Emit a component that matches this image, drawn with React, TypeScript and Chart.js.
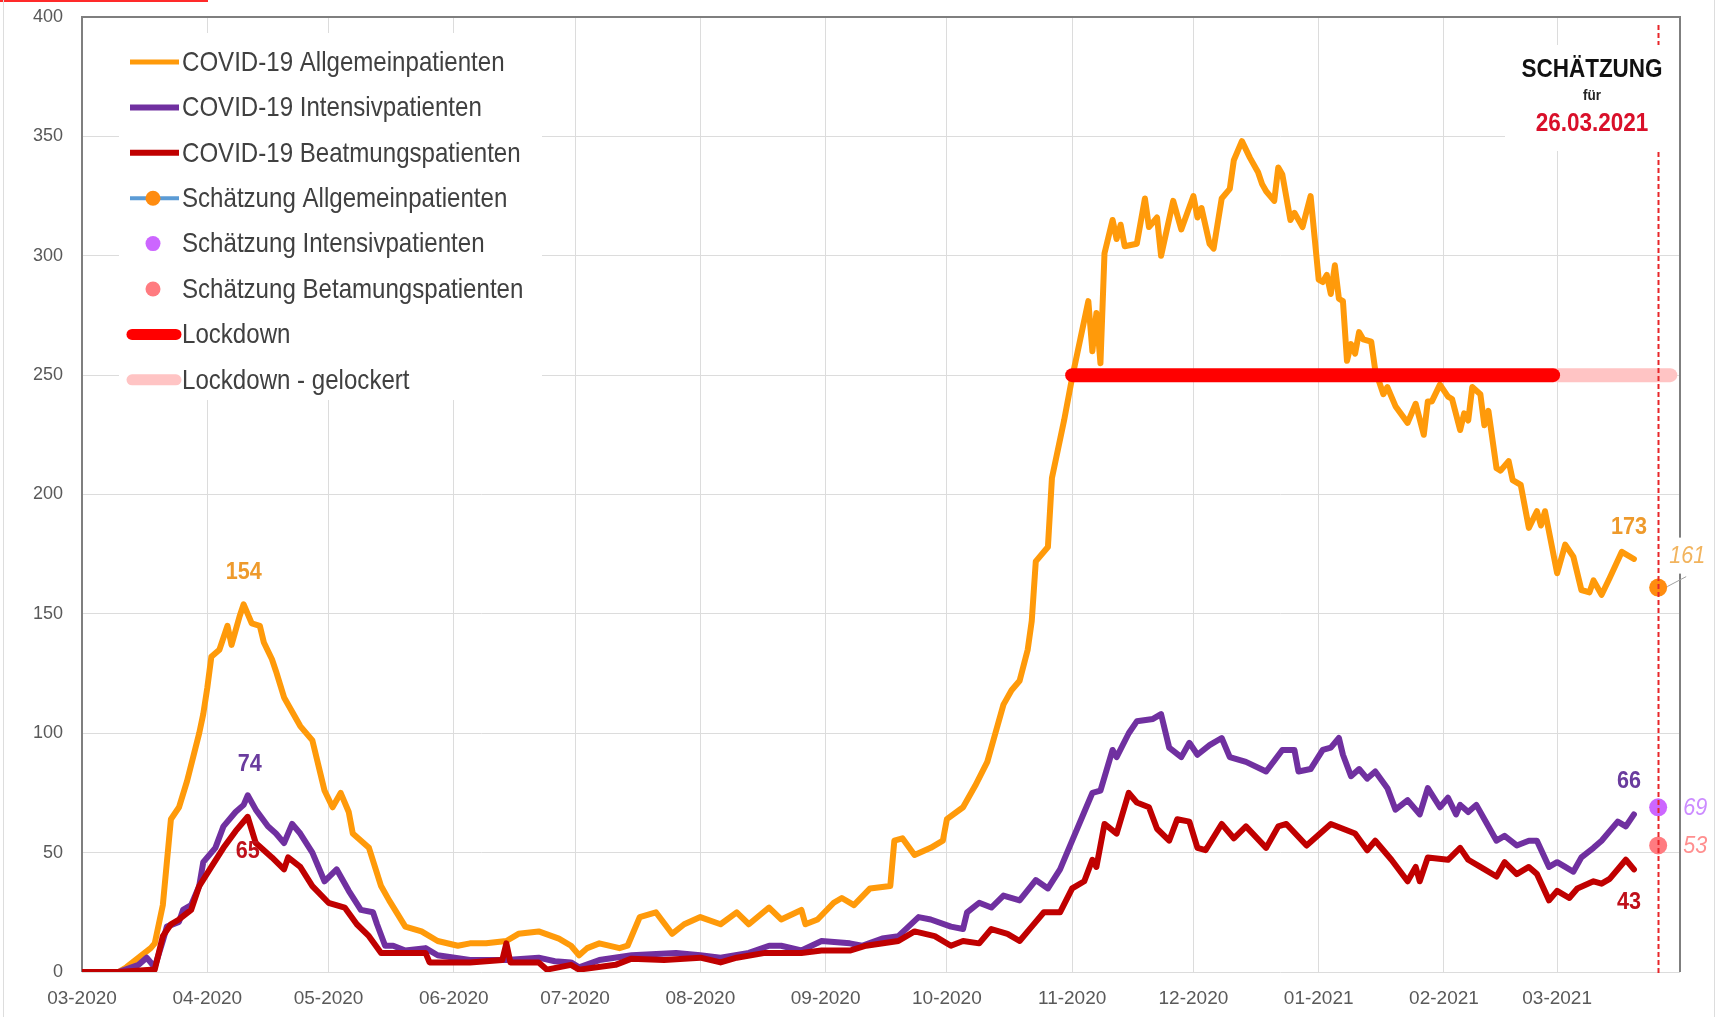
import React, { useEffect, useRef } from 'react';
import { Chart, registerables } from 'chart.js';

Chart.register(...registerables);

const FONT = "'Liberation Sans', Arial, sans-serif";

// x values: days counted from 2020-03-01
const monthTickDays = [0, 31, 61, 92, 122, 153, 184, 214, 245, 275, 306, 337, 365];
const monthTickLabels = ['03-2020', '04-2020', '05-2020', '06-2020', '07-2020', '08-2020', '09-2020', '10-2020', '11-2020', '12-2020', '01-2021', '02-2021', '03-2021'];

// COVID-19 Allgemeinpatienten
const allgDays = [0, 9, 11, 14, 17, 18, 20, 22, 24, 26, 29, 30, 31, 32, 34, 36, 37, 39, 40, 42, 44, 45, 47, 48, 50, 54, 57, 60, 62, 64, 66, 67, 71, 74, 76, 80, 84, 88, 93, 96, 100, 105, 108, 113, 118, 121, 123, 125, 128, 133, 135, 138, 142, 146, 149, 153, 158, 162, 165, 170, 173, 178, 179, 182, 186, 188, 191, 195, 200, 201, 203, 206, 210, 213, 214, 218, 221, 224, 226, 228, 230, 232, 234, 235, 236, 239, 240, 243, 245, 247, 249, 250, 251, 252, 253, 255, 256, 257, 258, 261, 263, 264, 266, 267, 270, 272, 275, 276, 277, 279, 280, 282, 284, 285, 287, 289, 291, 292, 293, 295, 296, 297, 299, 300, 302, 304, 306, 307, 308, 309, 310, 311, 312, 313, 314, 315, 316, 317, 319, 320, 322, 323, 325, 328, 330, 332, 333, 334, 336, 338, 339, 341, 342, 343, 344, 346, 347, 348, 350, 351, 353, 354, 356, 358, 360, 361, 362, 365, 367, 369, 371, 373, 374, 376, 378, 381, 384];
const allgValues = [0, 0, 2, 6, 10, 12, 28, 64, 69, 80, 100, 108, 119, 132, 135, 145, 137, 149, 154, 146, 145, 138, 131, 126, 115, 103, 97, 76, 69, 75, 67, 58, 52, 36, 30, 19, 17, 13, 11, 12, 12, 13, 16, 17, 14, 11, 7, 10, 12, 10, 11, 23, 25, 16, 20, 23, 20, 25, 20, 27, 22, 26, 20, 22, 29, 31, 28, 35, 36, 55, 56, 49, 52, 55, 64, 69, 78, 88, 100, 112, 118, 122, 135, 147, 172, 178, 207, 231, 249, 265, 281, 260, 276, 255, 301, 315, 307, 313, 304, 305, 324, 312, 316, 300, 323, 311, 325, 316, 320, 305, 303, 324, 328, 340, 348, 341, 335, 330, 327, 323, 337, 334, 315, 318, 312, 325, 290, 289, 292, 284, 296, 282, 281, 256, 263, 259, 268, 265, 264, 252, 242, 245, 237, 230, 238, 225, 239, 239, 246, 241, 240, 227, 234, 231, 245, 242, 229, 235, 211, 210, 214, 206, 204, 186, 193, 187, 193, 167, 179, 174, 160, 159, 164, 158, 165, 176, 173];

// COVID-19 Intensivpatienten
const intDays = [0, 9, 14, 16, 18, 20, 21, 24, 25, 27, 29, 30, 33, 35, 38, 40, 41, 43, 46, 48, 50, 52, 54, 57, 60, 63, 66, 69, 72, 73, 75, 77, 80, 85, 88, 96, 105, 113, 117, 121, 123, 128, 136, 147, 153, 158, 165, 170, 173, 178, 183, 190, 193, 198, 202, 207, 210, 215, 218, 219, 222, 225, 228, 232, 236, 239, 242, 245, 248, 250, 252, 255, 256, 259, 261, 265, 267, 269, 272, 274, 276, 279, 282, 284, 288, 293, 297, 300, 301, 304, 307, 309, 311, 312, 314, 316, 318, 320, 323, 325, 328, 331, 333, 336, 338, 340, 341, 343, 345, 347, 350, 352, 355, 358, 360, 363, 365, 367, 369, 371, 374, 376, 378, 380, 382, 384];
const intValues = [0, 0, 3, 6, 2, 13, 19, 21, 26, 28, 36, 46, 52, 61, 67, 70, 74, 68, 61, 58, 54, 62, 58, 50, 38, 43, 34, 26, 25, 20, 11, 11, 9, 10, 7, 5, 5, 6, 4.5, 4, 2, 5, 7, 8, 7, 6, 8, 11, 11, 9, 13, 12, 11, 14, 15, 23, 22, 19, 18, 25, 29, 27, 32, 30, 38.5, 35, 43, 55, 67, 75, 76, 93, 90, 100, 105, 106, 108, 94, 90, 96, 91, 95, 98, 90, 88, 84, 93, 93, 84, 85, 93, 94, 98, 91, 82, 85, 81, 84, 77, 68, 72, 66, 77, 69, 73, 66, 70, 67, 70, 64, 55, 57, 53, 55, 55, 44, 46, 44, 42, 48, 52, 55, 59, 63, 61, 66];

// COVID-19 Beatmungspatienten
const beatDays = [0, 9, 18, 20, 22, 24, 27, 29, 32, 35, 38, 41, 43, 47, 50, 51, 54, 57, 61, 65, 68, 71, 74, 80, 85, 86, 96, 104, 105, 106, 113, 115, 121, 123, 132, 136, 144, 153, 158, 162, 169, 178, 183, 190, 194, 202, 206, 211, 215, 218, 222, 225, 229, 232, 235, 238, 242, 245, 248, 250, 251, 253, 256, 259, 261, 264, 266, 269, 271, 274, 276, 278, 282, 285, 288, 293, 296, 298, 303, 309, 312, 315, 318, 320, 324, 328, 330, 331, 333, 338, 341, 343, 346, 350, 352, 355, 358, 360, 363, 365, 368, 370, 374, 376, 378, 382, 384];
const beatValues = [0, 0, 1, 15, 20, 22, 26, 36, 44, 52, 59, 65, 54, 48, 43, 48, 44, 36, 29, 27, 20, 15, 8, 8, 8, 4, 4, 5, 12, 4, 4, 1, 3, 1, 3, 5.6, 5, 6, 4, 6, 8, 8, 9, 9, 11, 13, 17, 15, 11, 13, 12, 18, 16, 13, 19, 25, 25, 35, 38, 47, 44, 62, 58, 75, 71, 69, 60, 55, 64, 63, 52, 51, 62, 56, 61, 52, 61, 62, 53, 62, 60, 58, 51, 55, 47, 38, 44, 38, 48, 47, 52, 47, 44, 40, 46, 41, 44, 41, 30, 34, 31, 35, 38, 37, 39, 47, 43];

// Schätzung für 26.03.2021
const estimateDay = 390;
const estimateAllg = 161;
const estimateInt = 69;
const estimateBeat = 53;

// Lockdown bars (at level 250)
const lockdownDays = [245, 364];
const lockdownLooseDays = [364, 393];
const lockdownLevel = 250;

const estimateTitle = 'SCHÄTZUNG';
const estimateFor = 'für';
const estimateDate = '26.03.2021';

const C_ORANGE = '#FF9A0A';
const C_PURPLE = '#7030A0';
const C_DARKRED = '#C00000';
const C_EST_ORANGE = '#FF8C10';
const C_EST_VIOLET = '#CC66FF';
const C_EST_SALMON = '#FF7B80';
const C_LOCK = '#FF0000';
const C_LOCK_LOOSE = '#FFC4C4';
const C_GRID = '#DCDCDC';
const C_FRAME = '#7F7F7F';

const pts = (d: number[], v: number[]) => d.map((x, i) => ({ x, y: v[i] }));

const legendStyles: any[] = [
  { kind: 'line', color: C_ORANGE, width: 5 },
  { kind: 'line', color: C_PURPLE, width: 6 },
  { kind: 'line', color: C_DARKRED, width: 6 },
  { kind: 'lineDot', color: '#5B9BD5', width: 4, dot: C_EST_ORANGE },
  { kind: 'dot', dot: C_EST_VIOLET },
  { kind: 'dot', dot: C_EST_SALMON },
  { kind: 'line', color: C_LOCK, width: 11, cap: 'round' },
  { kind: 'line', color: C_LOCK_LOOSE, width: 11, cap: 'round' },
];

// draw horizontally condensed text (emulates a narrow font)
const narrowText = (ctx: any, txt: string, x: number, y: number, font: string, color: string, align: string, sx: number) => {
  ctx.save();
  ctx.font = font;
  ctx.fillStyle = color;
  ctx.textAlign = align;
  ctx.textBaseline = 'middle';
  ctx.translate(x, y);
  ctx.scale(sx, 1);
  ctx.fillText(txt, 0, 0);
  ctx.restore();
};

const backgroundPlugin = {
  id: 'bg',
  beforeDraw(chart: any) {
    const { ctx, width, height } = chart;
    ctx.save();
    ctx.fillStyle = '#ffffff';
    ctx.fillRect(0, 0, width, height);
    ctx.fillStyle = '#FF2A2A';
    ctx.fillRect(0, 0, 208, 2);
    ctx.fillStyle = '#DDDDDD';
    ctx.fillRect(3, 0, 1, height);
    ctx.fillRect(1714, 0, 1, height);
    ctx.restore();
  },
};

const overlayPlugin = {
  id: 'overlay',
  beforeDatasetsDraw(chart: any) {
    const { ctx, chartArea } = chart;
    const { left, right, top, bottom } = chartArea;
    ctx.save();
    // frame
    ctx.strokeStyle = C_FRAME;
    ctx.lineWidth = 2;
    ctx.beginPath();
    ctx.moveTo(left, bottom);
    ctx.lineTo(left, top);
    ctx.lineTo(right, top);
    ctx.lineTo(right, bottom);
    ctx.stroke();

    // legend box
    ctx.fillStyle = '#ffffff';
    ctx.fillRect(119, 33, 423, 367);
    const rows = chart.data.datasets;
    rows.forEach((ds: any, i: number) => {
      const st = legendStyles[i];
      const y = 62 + i * 45.4;
      if (st.kind === 'line' || st.kind === 'lineDot') {
        ctx.strokeStyle = st.color;
        ctx.lineWidth = st.width;
        ctx.lineCap = st.cap || 'butt';
        ctx.beginPath();
        ctx.moveTo(st.cap ? 132 : 130, y);
        ctx.lineTo(st.cap ? 176 : 179, y);
        ctx.stroke();
      }
      if (st.kind === 'lineDot' || st.kind === 'dot') {
        ctx.fillStyle = st.dot;
        ctx.beginPath();
        ctx.arc(153, y, 7.5, 0, Math.PI * 2);
        ctx.fill();
      }
      narrowText(ctx, ds.label, 182, y + 1, `28px ${FONT}`, '#404040', 'left', 0.86);
    });

    // estimate annotation
    ctx.fillStyle = '#ffffff';
    ctx.fillRect(1505, 45, right - 1506, 106);
    const cx = 1592;
    narrowText(ctx, estimateTitle, cx, 70, `bold 25px ${FONT}`, '#111111', 'center', 0.9);
    narrowText(ctx, estimateFor, cx, 96, `bold 15px ${FONT}`, '#222222', 'center', 0.9);
    narrowText(ctx, estimateDate, cx, 124, `bold 25px ${FONT}`, '#D9102A', 'center', 0.9);
    ctx.restore();
  },
  afterDatasetsDraw(chart: any) {
    const { ctx, chartArea, scales } = chart;
    const xs = scales.x;
    const ys = scales.y;
    ctx.save();
    // dashed estimate line
    const dx = Math.round(xs.getPixelForValue(estimateDay)) + 0.5;
    ctx.strokeStyle = '#E8262A';
    ctx.lineWidth = 2;
    ctx.setLineDash([5, 3]);
    ctx.beginPath();
    ctx.moveTo(dx, chartArea.top + 8);
    ctx.lineTo(dx, 45);
    ctx.moveTo(dx, 152);
    ctx.lineTo(dx, chartArea.bottom + 3);
    ctx.stroke();
    ctx.setLineDash([]);

    // data labels
    const lab = (txt: string, day: number, val: number, dxo: number, dyo: number, color: string, font: string) => {
      narrowText(ctx, txt, xs.getPixelForValue(day) + dxo, ys.getPixelForValue(val) + dyo, font, color, 'center', 0.9);
    };
    const peak = (d: number[], v: number[]) => {
      let bi = 0;
      v.forEach((val, i) => { if (d[i] < 100 && val > v[bi]) bi = i; });
      return bi;
    };
    const bold = `bold 24px ${FONT}`;
    const pa = peak(allgDays, allgValues);
    const pi = peak(intDays, intValues);
    const pb = peak(beatDays, beatValues);
    lab(String(allgValues[pa]), allgDays[pa], allgValues[pa], 0, -32, '#EE9A2C', bold);
    lab(String(intValues[pi]), intDays[pi], intValues[pi], 2, -31, '#6A3C9E', bold);
    lab(String(beatValues[pb]), beatDays[pb], beatValues[pb], 0, 35, '#C0101A', bold);
    const la = allgDays.length - 1, li = intDays.length - 1, lb = beatDays.length - 1;
    lab(String(allgValues[la]), allgDays[la], allgValues[la], -5, -32, '#EE9A2C', bold);
    lab(String(intValues[li]), intDays[li], intValues[li], -5, -33, '#6A3C9E', bold);
    lab(String(beatValues[lb]), beatDays[lb], beatValues[lb], -5, 33, '#C0101A', bold);

    // estimate labels
    const ex = xs.getPixelForValue(estimateDay);
    const eyA = ys.getPixelForValue(estimateAllg);
    ctx.strokeStyle = '#A0A0A0';
    ctx.lineWidth = 1;
    ctx.beginPath();
    ctx.moveTo(ex + 9, eyA - 1);
    ctx.lineTo(ex + 28, eyA - 11);
    ctx.stroke();
    ctx.fillStyle = '#ffffff';
    ctx.fillRect(ex + 13, eyA - 50, 36, 36);
    const it = `italic 24px ${FONT}`;
    lab(String(estimateAllg), estimateDay, estimateAllg, 29, -31, '#F2B45E', it);
    lab(String(estimateInt), estimateDay, estimateInt, 37, 1, '#CC8CFF', it);
    lab(String(estimateBeat), estimateDay, estimateBeat, 37, 1, '#FF8F8F', it);
    ctx.restore();
  },
};

export default function App() {
  const canvasRef = useRef<HTMLCanvasElement | null>(null);

  useEffect(() => {
    const canvas = canvasRef.current;
    if (!canvas) return;
    const lineDs = (label: string, d: number[], v: number[], color: string, width: number, order: number) => ({
      label,
      data: pts(d, v),
      borderColor: color,
      backgroundColor: color,
      borderWidth: width,
      pointRadius: 0,
      tension: 0,
      borderJoinStyle: 'round',
      borderCapStyle: 'round',
      order,
    });
    const estDs = (label: string, v: number, color: string) => ({
      label,
      data: [{ x: estimateDay, y: v }],
      showLine: false,
      pointRadius: 9,
      pointBackgroundColor: color,
      pointBorderWidth: 0,
      borderColor: color,
      backgroundColor: color,
      order: 2,
    });
    const chart = new Chart(canvas, {
      type: 'line',
      data: {
        datasets: [
          lineDs('COVID-19 Allgemeinpatienten', allgDays, allgValues, C_ORANGE, 6, 6),
          lineDs('COVID-19 Intensivpatienten', intDays, intValues, C_PURPLE, 6, 5),
          lineDs('COVID-19 Beatmungspatienten', beatDays, beatValues, C_DARKRED, 6, 4),
          estDs('Schätzung Allgemeinpatienten', estimateAllg, C_EST_ORANGE),
          estDs('Schätzung Intensivpatienten', estimateInt, C_EST_VIOLET),
          estDs('Schätzung Betamungspatienten', estimateBeat, C_EST_SALMON),
          lineDs('Lockdown', lockdownDays, [lockdownLevel, lockdownLevel], C_LOCK, 14, 1),
          lineDs('Lockdown - gelockert', lockdownLooseDays, [lockdownLevel, lockdownLevel], C_LOCK_LOOSE, 14, 1),
        ] as any,
      },
      options: {
        animation: false,
        responsive: false,
        devicePixelRatio: 1,
        layout: { padding: { top: 17, right: 38, left: 0, bottom: 0 } },
        plugins: { legend: { display: false }, tooltip: { enabled: false } },
        scales: {
          x: {
            type: 'linear',
            min: 0,
            max: 395.4,
            afterFit: (s: any) => { s.height = 45; s.paddingLeft = 0; s.paddingRight = 0; },
            afterBuildTicks: (s: any) => { s.ticks = monthTickDays.map((v) => ({ value: v })); },
            grid: { color: C_GRID, lineWidth: 1, drawTicks: false },
            border: { display: false },
            ticks: {
              autoSkip: false,
              maxRotation: 0,
              padding: 15,
              color: '#595959',
              font: { family: FONT, size: 19 },
              callback: (_v: any, i: number) => monthTickLabels[i],
            },
          },
          y: {
            type: 'linear',
            min: 0,
            max: 400,
            afterFit: (s: any) => { s.width = 82; s.paddingTop = 0; s.paddingBottom = 0; },
            grid: { color: C_GRID, lineWidth: 1, drawTicks: false },
            border: { display: false },
            ticks: {
              stepSize: 50,
              padding: 19,
              color: '#595959',
              font: { family: FONT, size: 18 },
            },
          },
        },
      } as any,
      plugins: [backgroundPlugin, overlayPlugin],
    });
    return () => chart.destroy();
  }, []);

  return (
    <div style={{ position: 'fixed', left: 0, top: 0, width: 1718, height: 1017, background: '#fff' }}>
      <canvas ref={canvasRef} width={1718} height={1017} style={{ display: 'block' }} />
    </div>
  );
}
